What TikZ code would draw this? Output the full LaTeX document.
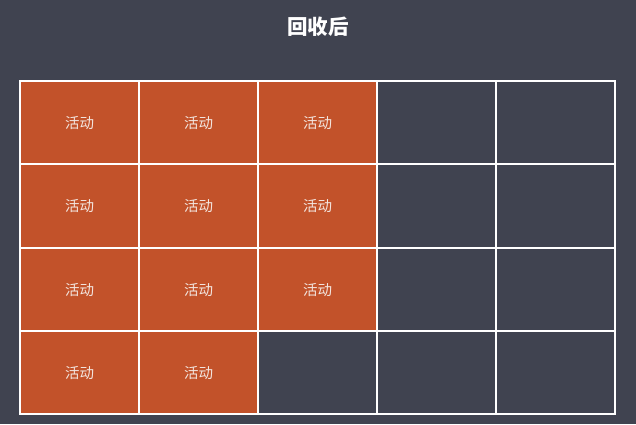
\documentclass[tikz,border=0pt]{standalone}
\usepackage{fontspec}
\newfontfamily\cjk{Noto Sans CJK SC}
\definecolor{bgc}{HTML}{404350}
\definecolor{act}{HTML}{C2522A}
\definecolor{acttext}{HTML}{F3E6E0}
\tikzset{
  cell/.style={draw=white, line width=2pt, minimum width=119pt, minimum height=83.25pt, inner sep=0pt, anchor=north west},
  active/.style={cell, fill=act, text=acttext, font=\cjk\fontsize{14.5}{15}\selectfont, text depth=-4pt},
  empty/.style={cell, fill=bgc},
  title/.style={text=white, font=\cjk\bfseries\fontsize{20.5}{22}\selectfont}
}
\begin{document}
\begin{tikzpicture}[x=1pt,y=-1pt]
\fill[bgc] (0,0) rectangle (636,424);
\useasboundingbox (0,0) rectangle (636,424);
\node[title] (title) at (318,27) {回收后};
\foreach \r in {0,...,3}{
  \foreach \c in {0,...,4}{
    \pgfmathtruncatemacro{\isact}{(\r<3 && \c<3) || (\r==3 && \c<2) ? 1 : 0}
    \ifnum\isact=1
      \node[active] (c-\r-\c) at ({19+119*\c},{80+83.25*\r}) {活动};
    \else
      \node[empty] (c-\r-\c) at ({19+119*\c},{80+83.25*\r}) {};
    \fi
  }
}
\end{tikzpicture}
\end{document}
